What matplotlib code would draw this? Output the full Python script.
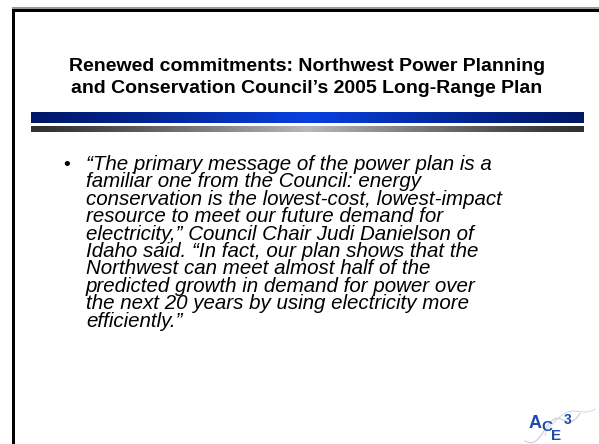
import numpy as np
import matplotlib
matplotlib.use("Agg")
import matplotlib.pyplot as plt
from matplotlib.colors import LinearSegmentedColormap

# ---- content ----
title_lines = [
    "Renewed commitments: Northwest Power Planning",
    "and Conservation Council\u2019s 2005 Long-Range Plan",
]
body_lines = [
    "\u201cThe primary message of the power plan is a",
    "familiar one from the Council: energy",
    "conservation is the lowest-cost, lowest-impact",
    "resource to meet our future demand for",
    "electricity,\u201d Council Chair Judi Danielson of",
    "Idaho said. \u201cIn fact, our plan shows that the",
    "Northwest can meet almost half of the",
    "predicted growth in demand for power over",
    "the next 20 years by using electricity more",
    "efficiently.\u201d",
]
logo_letters = ["A", "C", "E", "3"]

W, H = 599, 444
fig = plt.figure(figsize=(W / 100, H / 100), dpi=100)
ax = fig.add_axes([0, 0, 1, 1])

# borders
ax.add_patch(plt.Rectangle((12, 7.5), W - 12, 1.5, color="#9a9a9a", lw=0))
ax.add_patch(plt.Rectangle((12, 9), W - 12, 3.2, color="black", lw=0))
ax.add_patch(plt.Rectangle((12, 9), 3, H - 9, color="black", lw=0))

# gradient bars
x = np.linspace(-1, 1, 512)
prof = (1 - np.abs(x)) ** 1.2
blue = LinearSegmentedColormap.from_list("b", ["#00186a", "#0840e0"])
gray = LinearSegmentedColormap.from_list("g", ["#303030", "#b8b8b8"])
ax.imshow(prof[None, :], cmap=blue, aspect="auto", extent=(31, 584, 123, 112),
          interpolation="bilinear", zorder=2)
ax.imshow(prof[None, :], cmap=gray, aspect="auto", extent=(31, 584, 132, 126),
          interpolation="bilinear", zorder=2)
ax.set_xlim(0, W)
ax.set_ylim(H, 0)
ax.axis("off")

# title
for i, t in enumerate(title_lines):
    ax.text(307, 71 + 22 * i, t, ha="center", va="baseline",
            fontsize=14.0, fontweight="bold", family="Liberation Sans", color="black")

# body
ax.text(63, 170, "\u2022", ha="left", va="baseline", fontsize=14,
        family="Liberation Sans", color="black")
for i, t in enumerate(body_lines):
    ax.text(86, 170 + 17.4 * i, t, ha="left", va="baseline", fontsize=14.8,
            style="italic", family="Liberation Sans", color="black")

# logo
tt = np.linspace(0, 1, 50)
ax.plot(525 + 55 * tt, 441 - 30 * tt + 6 * np.sin(tt * 9), color="#c8ccd8", lw=0.8)
ax.plot(545 + 50 * tt, 432 - 25 * tt ** 0.5 + 3 * np.cos(tt * 7), color="#d4d8e0", lw=0.8)
lx = [529, 541, 551, 564]
ly = [428, 431, 440, 424]
ls = [13, 11, 11, 10]
for l, xx, yy, s in zip(logo_letters, lx, ly, ls):
    ax.text(xx, yy, l, fontsize=s, fontweight="bold", family="Liberation Sans",
            color="#1e4ab0", ha="left", va="baseline")

fig.savefig("out.png", dpi=100)
